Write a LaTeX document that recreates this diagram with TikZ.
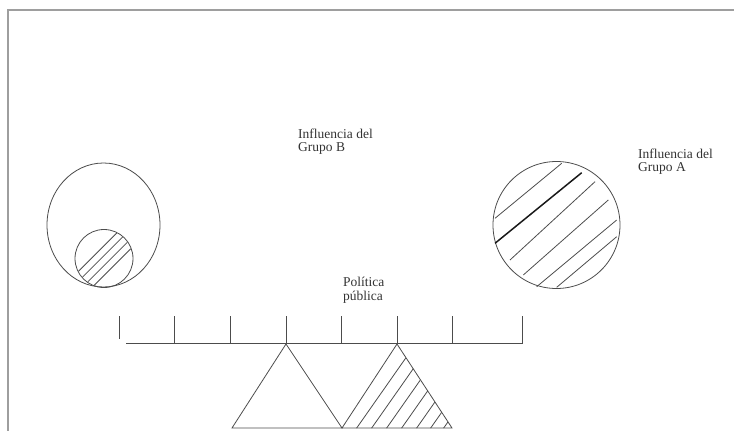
\documentclass[tikz,border=0pt]{standalone}
\usepackage{fontspec}
\setmainfont{Liberation Serif}
\begin{document}
\begin{tikzpicture}[x=1pt,y=-1pt,
  ln/.style={draw=black!70,line width=0.8pt},
  frame/.style={draw=black!38,line width=2.6pt},
  lbl/.style={inner sep=0pt,anchor=north west,align=left,text=black!80,
    font=\fontsize{13.5}{13.5}\selectfont}]
\useasboundingbox (0,0) rectangle (734,431);
% frame
\draw[frame] (734,10) -- (8,10) -- (8,431);
% labels
\node[lbl] (gb) at (298,128.5) {Influencia del\\Grupo B};
\node[lbl] (ga) at (638,148.5) {Influencia del\\Grupo A};
\node[lbl] (pp) at (343,277) {Política\\pública};
% left ellipse with small hatched circle
\draw[ln] (103.5,225) ellipse [x radius=56.5pt, y radius=62pt];
\draw[ln] (104,258.5) circle [radius=29pt];
\begin{scope}
  \clip (104,258.5) circle [radius=28.5pt];
  \foreach \d in {-9,-2,5,12}{
    \draw[ln] ({104+0.7071*\d-40},{258.5+0.7071*\d+40}) -- ({104+0.7071*\d+40},{258.5+0.7071*\d-40});
  }
\end{scope}
% right hatched circle
\draw[ln] (556.5,225) circle [radius=63.5pt];
\draw[ln] (495,218.3) -- (561.7,163.3);
\draw[draw=black!90,line width=1.5pt] (495,243.3) -- (581.7,172.7);
\draw[ln] (510,260) -- (595,181.7);
\draw[ln] (523.3,275) -- (608.3,200);
\draw[ln] (536.7,286.7) -- (616.7,220);
\draw[ln] (556.7,287.3) -- (616.7,236.7);
% beam
\draw[ln] (126,343) -- (523,343);
\draw[ln] (119,316) -- (119,339);
\foreach \x in {174,230,286,341,397,452,522}{
  \draw[ln] (\x,316) -- (\x,343);
}
% fulcrums
\draw[ln] (232,428) -- (286,344) -- (342,428) -- cycle;
\draw[ln] (342,428) -- (397,344) -- (452,428) -- cycle;
\begin{scope}
  \clip (342,428) -- (397,344) -- (452,428) -- cycle;
  \foreach \b in {356,371,386,401,416,430,443}{
    \draw[ln] (\b,429) -- ({\b+0.574*110},{429-0.819*110});
  }
\end{scope}
\end{tikzpicture}
\end{document}
